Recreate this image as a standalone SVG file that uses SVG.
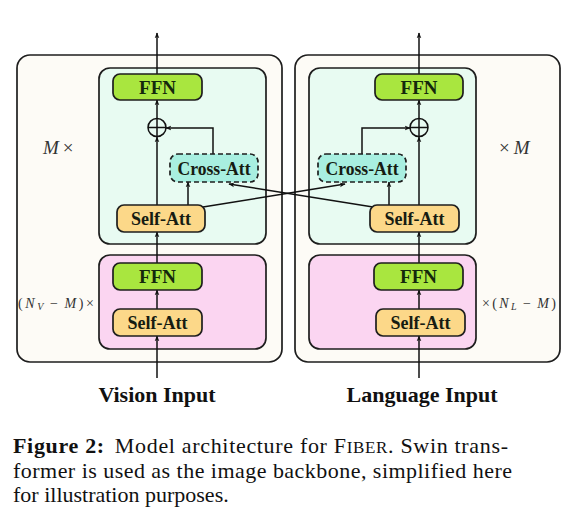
<svg xmlns="http://www.w3.org/2000/svg" width="583" height="516" viewBox="0 0 583 516">
<defs>
<marker id="ah" viewBox="0 0 10 10" refX="9" refY="5" markerWidth="6" markerHeight="6" orient="auto" markerUnits="userSpaceOnUse">
<path d="M0,1 L10,5 L0,9 L3,5 Z" fill="#111"/>
</marker>
<style>
.outer{fill:#fdfbf6;stroke:#1e1e1e;stroke-width:1.7}
.teal{fill:#e8fbf2;stroke:#1e1e1e;stroke-width:1.7}
.pink{fill:#fbd5f1;stroke:#1e1e1e;stroke-width:1.7}
.ffn{fill:#a9e63f;stroke:#1e1e1e;stroke-width:1.7}
.sa{fill:#fcd889;stroke:#1e1e1e;stroke-width:1.7}
.ca{fill:#a8efe0;stroke:#1e1e1e;stroke-width:1.7;stroke-dasharray:5,3}
.lbl{font-family:"Liberation Serif",serif;font-weight:bold;font-size:18px;fill:#161c12;text-anchor:middle;dominant-baseline:central}
.f19{font-size:19px;fill:#14280c}
.in{font-family:"Liberation Serif",serif;font-weight:bold;font-size:22px;fill:#111;text-anchor:middle}
.math{font-family:"Liberation Serif",serif;fill:#333}
.cap{font-family:"Liberation Serif",serif;font-size:22px;fill:#111}
.ln{fill:none;stroke:#111;stroke-width:1.5}
.plus{fill:none;stroke:#111;stroke-width:1.5}
</style>
</defs>

<g id="vision-stack"><rect class="outer" x="17" y="55" width="265" height="307" rx="13"/></g>
<g id="language-stack"><rect class="outer" x="295" y="55" width="265" height="307" rx="13"/></g>
<g id="vision-fusion"><rect class="teal" x="99" y="68" width="167" height="176" rx="11"/></g>
<g id="language-fusion"><rect class="teal" x="309" y="68" width="167" height="176" rx="11"/></g>
<g id="vision-base"><rect class="pink" x="99" y="255" width="167" height="94" rx="11"/></g>
<g id="language-base"><rect class="pink" x="309" y="255" width="167" height="94" rx="11"/></g>

<g id="connectors">
<line class="ln" x1="157" y1="74" x2="157" y2="33" marker-end="url(#ah)"/>
<line class="ln" x1="419" y1="74" x2="419" y2="33" marker-end="url(#ah)"/>
<line class="ln" x1="157" y1="118" x2="157" y2="100" marker-end="url(#ah)"/>
<line class="ln" x1="419" y1="118" x2="419" y2="100" marker-end="url(#ah)"/>
<line class="ln" x1="157" y1="205" x2="157" y2="137" marker-end="url(#ah)"/>
<line class="ln" x1="419" y1="205" x2="419" y2="137" marker-end="url(#ah)"/>
<polyline class="ln" points="213,154 213,128 166,128" marker-end="url(#ah)"/>
<polyline class="ln" points="362,154 362,128 410,128" marker-end="url(#ah)"/>
<line class="ln" x1="188" y1="205" x2="188" y2="182" marker-end="url(#ah)"/>
<line class="ln" x1="389" y1="205" x2="389" y2="182" marker-end="url(#ah)"/>
<line class="ln" x1="203" y1="207" x2="345" y2="184" marker-end="url(#ah)"/>
<line class="ln" x1="373" y1="207" x2="229" y2="184" marker-end="url(#ah)"/>
<line class="ln" x1="157" y1="263" x2="157" y2="232" marker-end="url(#ah)"/>
<line class="ln" x1="419" y1="263" x2="419" y2="232" marker-end="url(#ah)"/>
<line class="ln" x1="157" y1="309" x2="157" y2="290" marker-end="url(#ah)"/>
<line class="ln" x1="419" y1="309" x2="419" y2="290" marker-end="url(#ah)"/>
<line class="ln" x1="157" y1="378" x2="157" y2="336" marker-end="url(#ah)"/>
<line class="ln" x1="419" y1="378" x2="419" y2="336" marker-end="url(#ah)"/>
</g>

<g id="v-ffn-top"><rect class="ffn" x="113" y="74" width="89" height="26" rx="7"/><text class="lbl f19" x="157.5" y="87.5">FFN</text></g>
<g id="l-ffn-top"><rect class="ffn" x="375" y="74" width="88" height="26" rx="7"/><text class="lbl f19" x="419" y="87.5">FFN</text></g>
<g id="v-add"><circle class="plus" cx="157" cy="127.5" r="9"/><path class="plus" d="M148,127.5 H166 M157,118.5 V136.5"/></g>
<g id="l-add"><circle class="plus" cx="419" cy="127.5" r="9"/><path class="plus" d="M410,127.5 H428 M419,118.5 V136.5"/></g>
<g id="v-cross"><rect class="ca" x="170" y="154" width="88" height="28" rx="8"/><text class="lbl" x="214" y="168.5" textLength="73" lengthAdjust="spacingAndGlyphs">Cross-Att</text></g>
<g id="l-cross"><rect class="ca" x="318" y="154" width="88" height="28" rx="8"/><text class="lbl" x="362" y="168.5" textLength="73" lengthAdjust="spacingAndGlyphs">Cross-Att</text></g>
<g id="v-sa-top"><rect class="sa" x="117" y="205" width="88" height="27" rx="7"/><text class="lbl" x="161" y="218.5">Self-Att</text></g>
<g id="l-sa-top"><rect class="sa" x="370" y="205" width="89" height="27" rx="7"/><text class="lbl" x="414.5" y="218.5">Self-Att</text></g>
<g id="v-ffn"><rect class="ffn" x="113" y="263" width="89" height="27" rx="7"/><text class="lbl f19" x="157.5" y="276.5">FFN</text></g>
<g id="l-ffn"><rect class="ffn" x="374" y="263" width="89" height="27" rx="7"/><text class="lbl f19" x="418.5" y="276.5">FFN</text></g>
<g id="v-sa"><rect class="sa" x="113" y="309" width="89" height="27" rx="7"/><text class="lbl" x="157.5" y="322.5">Self-Att</text></g>
<g id="l-sa"><rect class="sa" x="376" y="309" width="89" height="27" rx="7"/><text class="lbl" x="420.5" y="322.5">Self-Att</text></g>

<g id="labels">
<text class="math" x="43" y="154" font-size="19"><tspan font-style="italic">M</tspan><tspan dx="4">×</tspan></text>
<text class="math" x="499" y="154" font-size="19">×<tspan dx="4" font-style="italic">M</tspan></text>
<text class="math" x="18" y="308" font-size="14" textLength="76" lengthAdjust="spacing">(<tspan font-style="italic">N</tspan><tspan font-style="italic" font-size="10" dy="2">V</tspan><tspan dy="-2" dx="4">−</tspan><tspan dx="4" font-style="italic">M</tspan>)×</text>
<text class="math" x="482" y="308" font-size="14" textLength="74" lengthAdjust="spacing">×(<tspan font-style="italic">N</tspan><tspan font-style="italic" font-size="10" dy="2">L</tspan><tspan dy="-2" dx="4">−</tspan><tspan dx="4" font-style="italic">M</tspan>)</text>
<text class="in" x="157" y="402">Vision Input</text>
<text class="in" x="422" y="402">Language Input</text>
</g>

<g id="caption">
<text class="cap" x="13" y="453" textLength="495" lengthAdjust="spacing"><tspan font-weight="bold">Figure 2:</tspan><tspan dx="10">Model architecture for F</tspan><tspan font-size="17">IBER</tspan>. Swin trans-</text>
<text class="cap" x="13" y="478" textLength="499" lengthAdjust="spacing">former is used as the image backbone, simplified here</text>
<text class="cap" x="13" y="502">for illustration purposes.</text>
</g>
</svg>
